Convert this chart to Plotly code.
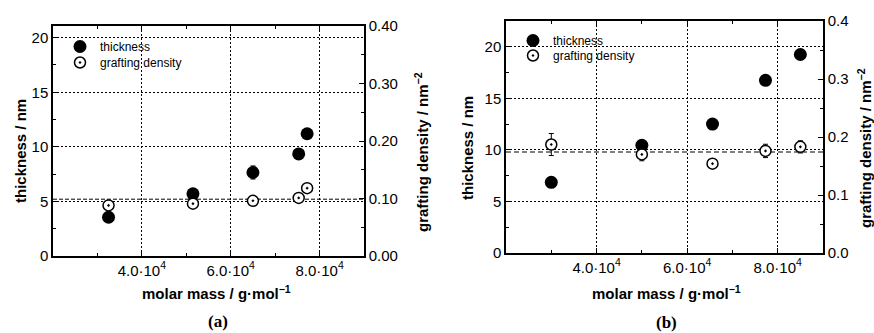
import numpy as np
import plotly.graph_objects as go

# ---- data: panel (a) ----
mm_a = [32500, 51500, 65000, 75300, 77200]
thk_a = [3.55, 5.70, 7.65, 9.35, 11.20]
thk_a_err = [0, 0, 0.6, 0, 0]
gd_a = [0.088, 0.091, 0.096, 0.101, 0.118]
gd_a_err = [0, 0, 0, 0, 0]

# ---- data: panel (b) ----
mm_b = [30000, 50000, 65600, 77300, 85000]
thk_b = [6.85, 10.45, 12.50, 16.75, 19.25]
thk_b_err = [0, 0, 0, 0, 0]
gd_b = [0.187, 0.170, 0.154, 0.176, 0.183]
gd_b_err = [0.019, 0.011, 0.005, 0.0115, 0.0105]

# axis ticks
x_tickvals = [40000, 60000, 80000]
x_ticktext = ["4.0·10<sup>4</sup>", "6.0·10<sup>4</sup>", "8.0·10<sup>4</sup>"]
x_minor = [30000, 50000, 70000]
thk_ticks = [0, 5, 10, 15, 20]
thk_minor = [2.5, 7.5, 12.5, 17.5]
gd_ticks = [0.0, 0.1, 0.2, 0.3, 0.4]
gd_minor = [0.05, 0.15, 0.25, 0.35]

W, H = 874, 333
SANS = "Liberation Sans, Arial, sans-serif"
SERIF = "Liberation Serif, Times New Roman, serif"


def px_x(p):
    return p / W


def px_y(p):
    return 1 - p / H


fig = go.Figure()

err_style = dict(type="data", color="black", thickness=1, width=2.5, visible=True)
thick_marker = dict(symbol="circle", size=13, color="black", line=dict(color="black", width=0))
gd_marker = dict(symbol="circle-dot", size=11, color="white", line=dict(color="black", width=1.5))

# panel (a)
fig.add_trace(go.Scatter(x=mm_a, y=thk_a, mode="markers", name="thickness",
                         marker=thick_marker, error_y=dict(array=thk_a_err, **err_style),
                         xaxis="x", yaxis="y", legend="legend"))
fig.add_trace(go.Scatter(x=mm_a, y=gd_a, mode="markers", name="grafting density",
                         marker=gd_marker, error_y=dict(array=gd_a_err, **err_style),
                         xaxis="x", yaxis="y2", legend="legend2"))
# panel (b)
fig.add_trace(go.Scatter(x=mm_b, y=thk_b, mode="markers", name="thickness",
                         marker=thick_marker, error_y=dict(array=thk_b_err, **err_style),
                         xaxis="x2", yaxis="y3", legend="legend3"))
fig.add_trace(go.Scatter(x=mm_b, y=gd_b, mode="markers", name="grafting density",
                         marker=gd_marker, error_y=dict(array=gd_b_err, **err_style),
                         xaxis="x2", yaxis="y4", legend="legend4"))

# mean grafting density reference lines
fig.add_shape(type="line", xref="x domain", yref="y2", x0=0, x1=1,
              y0=float(np.mean(gd_a)), y1=float(np.mean(gd_a)),
              line=dict(color="black", width=1, dash="4px,2px"), layer="below")
fig.add_shape(type="line", xref="x2 domain", yref="y4", x0=0, x1=1,
              y0=float(np.mean(gd_b)), y1=float(np.mean(gd_b)),
              line=dict(color="#808080", width=2, dash="5px,3px"), layer="below")

tick_font = dict(family=SANS, size=15, color="black")


def xaxis(domain, anchor):
    return dict(domain=domain, anchor=anchor, range=[20000, 90000],
                tickmode="array", tickvals=x_tickvals, ticktext=x_ticktext,
                ticks="inside", ticklen=5, tickwidth=1, tickcolor="black",
                minor=dict(tickmode="array", tickvals=x_minor, ticks="inside",
                           ticklen=3, tickcolor="black", showgrid=False),
                showline=True, linecolor="black", linewidth=1.5, mirror="ticks",
                showgrid=True, gridcolor="black", gridwidth=1, griddash="2px,2px",
                zeroline=False, tickfont=tick_font, automargin=False)


def yleft(domain, anchor, rng):
    return dict(domain=domain, anchor=anchor, range=rng,
                tickmode="array", tickvals=thk_ticks,
                ticks="inside", ticklen=5, tickwidth=1, tickcolor="black",
                minor=dict(tickmode="array", tickvals=thk_minor, ticks="inside",
                           ticklen=3, tickcolor="black", showgrid=False),
                showline=True, linecolor="black", linewidth=1.5,
                showgrid=True, gridcolor="black", gridwidth=1, griddash="2px,2px",
                zeroline=False, tickfont=tick_font, automargin=False)


def yright(overlay, anchor, fmt):
    return dict(overlaying=overlay, anchor=anchor, side="right", range=[0, 0.4],
                tickmode="array", tickvals=gd_ticks, tickformat=fmt,
                ticks="inside", ticklen=5, tickwidth=1, tickcolor="black",
                minor=dict(tickmode="array", tickvals=gd_minor, ticks="inside",
                           ticklen=3, tickcolor="black", showgrid=False),
                showline=True, linecolor="black", linewidth=1.5,
                showgrid=False, zeroline=False, tickfont=tick_font, automargin=False)


dom_xa = [px_x(53), px_x(364)]
dom_ya = [px_y(256), px_y(26)]
dom_xb = [px_x(506), px_x(823)]
dom_yb = [px_y(253), px_y(21)]

legend_font = dict(family=SANS, size=12, color="black")


def legend_at(left, top):
    return dict(x=px_x(left), y=px_y(top), xanchor="left", yanchor="top",
                bgcolor="rgba(0,0,0,0)", font=legend_font, itemwidth=30)


fig.update_layout(
    width=W, height=H,
    margin=dict(l=0, r=0, t=0, b=0),
    paper_bgcolor="white", plot_bgcolor="white",
    font=dict(family=SANS, color="black"),
    xaxis=xaxis(dom_xa, "y"),
    yaxis=yleft(dom_ya, "x", [0, 21.07]),
    yaxis2=yright("y", "x", ".2f"),
    xaxis2=xaxis(dom_xb, "y3"),
    yaxis3=yleft(dom_yb, "x2", [0, 22.5]),
    yaxis4=yright("y3", "x2", ".1f"),
    legend=legend_at(60, 32),
    legend2=legend_at(60, 48),
    legend3=legend_at(513, 26),
    legend4=legend_at(513, 41),
    showlegend=True,
)

title_font = dict(family=SANS, size=15, color="black", weight="bold")
annots = [
    # panel (a)
    dict(text="thickness / nm", x=px_x(20), y=px_y(151), textangle=-90),
    dict(text="grafting density / nm<sup>−2</sup>", x=px_x(422), y=px_y(152), textangle=-90),
    dict(text="molar mass / g·mol<sup>−1</sup>", x=px_x(216), y=px_y(292)),
    # panel (b)
    dict(text="thickness / nm", x=px_x(467), y=px_y(148), textangle=-90),
    dict(text="grafting density / nm<sup>−2</sup>", x=px_x(864), y=px_y(148), textangle=-90),
    dict(text="molar mass / g·mol<sup>−1</sup>", x=px_x(666), y=px_y(292)),
]
for a in annots:
    fig.add_annotation(xref="paper", yref="paper", showarrow=False,
                       xanchor="center", yanchor="middle", font=title_font, **a)

panel_font = dict(family=SERIF, size=17, color="black", weight="bold")
fig.add_annotation(text="(a)", xref="paper", yref="paper", x=px_x(218), y=px_y(321),
                   showarrow=False, xanchor="center", yanchor="middle", font=panel_font)
fig.add_annotation(text="(b)", xref="paper", yref="paper", x=px_x(666), y=px_y(322),
                   showarrow=False, xanchor="center", yanchor="middle", font=panel_font)

fig.write_html("out.html")
